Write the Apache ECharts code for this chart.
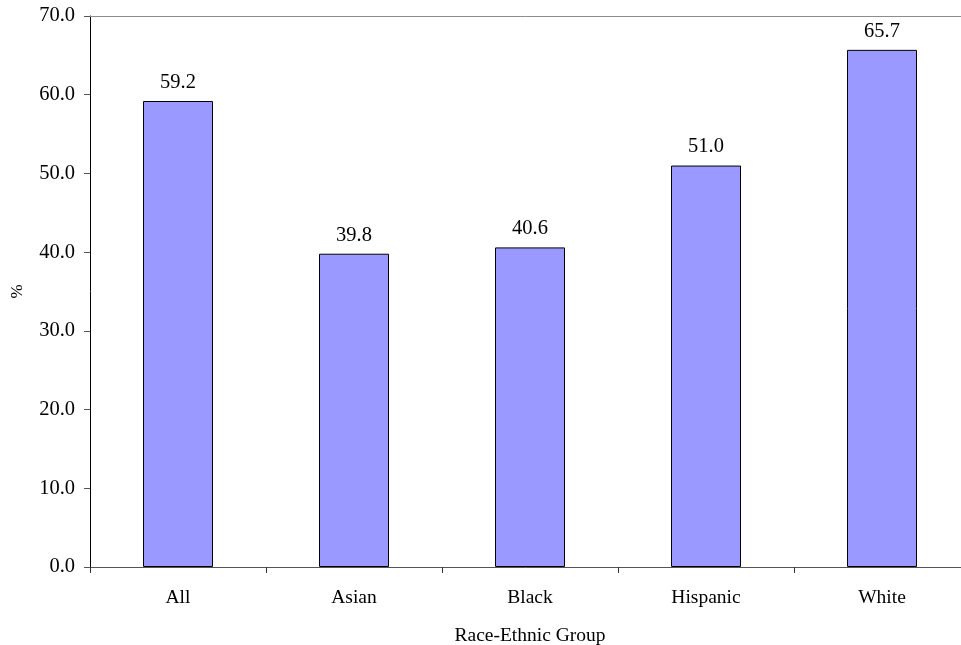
<!DOCTYPE html>
<html>
<head>
<meta charset="utf-8">
<script src="https://cdn.jsdelivr.net/npm/echarts@6/dist/echarts.min.js"></script>
<style>
html,body{margin:0;padding:0;background:#fff;}
#chart{width:961px;height:645px;}
</style>
</head>
<body>
<div id="chart"></div>
<script>
// Share by race-ethnic group (%)
const categories = ['All', 'Asian', 'Black', 'Hispanic', 'White'];
const values = [59.2, 39.8, 40.6, 51.0, 65.7];
const yTicks = { min: 0, max: 70, interval: 10 };

const font = 'Liberation Serif, Times New Roman, serif';
const chart = echarts.init(document.getElementById('chart'), null, { renderer: 'canvas' });

chart.setOption({
  backgroundColor: '#ffffff',
  animation: false,
  grid: { left: 90, top: 16, width: 880, height: 551, containLabel: false, outerBoundsMode: 'none' },
  xAxis: [{
    type: 'category',
    data: categories,
    position: 'bottom',
    axisLine: { show: true, lineStyle: { color: '#555555', width: 1 } },
    axisTick: { show: true, alignWithLabel: false, length: 6, lineStyle: { color: '#333333' } },
    axisLabel: { color: '#000', fontFamily: font, fontSize: 19.5, margin: 21 },
    splitLine: { show: false },
    name: 'Race-Ethnic Group',
    nameLocation: 'middle',
    nameGap: 59,
    nameTextStyle: { color: '#000', fontFamily: font, fontSize: 19.5 }
  }, {
    // thin frame line across the top of the plot
    type: 'category',
    data: categories,
    position: 'top',
    axisLine: { show: true, lineStyle: { color: '#8c8c8c', width: 1 } },
    axisTick: { show: false },
    axisLabel: { show: false }
  }],
  yAxis: {
    type: 'value',
    min: yTicks.min,
    max: yTicks.max,
    interval: yTicks.interval,
    axisLine: { show: true, lineStyle: { color: '#000000', width: 1 } },
    axisTick: { show: true, length: 6, lineStyle: { color: '#555555' } },
    axisLabel: {
      color: '#000', fontFamily: font, fontSize: 20.5, margin: 15,
      formatter: v => v.toFixed(1)
    },
    splitLine: { show: false },
    name: '%',
    nameLocation: 'middle',
    nameRotate: 90,
    nameGap: 64,
    nameTextStyle: { color: '#000', fontFamily: font, fontSize: 17 }
  },
  series: [{
    type: 'bar',
    data: values,
    barWidth: 70,
    itemStyle: { color: '#9999FF', borderColor: '#000000', borderWidth: 1 },
    label: {
      show: true,
      position: 'top',
      distance: 8,
      color: '#000',
      fontFamily: font,
      fontSize: 20.5,
      formatter: p => p.value.toFixed(1)
    }
  }]
});
</script>
</body>
</html>
